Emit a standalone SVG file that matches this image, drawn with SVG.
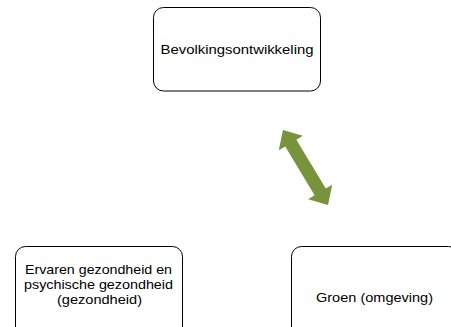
<svg xmlns="http://www.w3.org/2000/svg" width="451" height="327" viewBox="0 0 451 327">
<style>
.box{fill:#ffffff;stroke:#000000;stroke-width:1}
.lbl{font-family:"Liberation Sans",Arial,sans-serif;font-size:13px;fill:#000000;text-anchor:middle}
.arr{fill:#77933C}
</style>
<rect width="451" height="327" fill="#ffffff"/>
<g id="node-bevolking">
<rect class="box" x="153.5" y="7.5" width="167" height="83.5" rx="10"/>
<text class="lbl" x="237" y="54" textLength="153" lengthAdjust="spacingAndGlyphs">Bevolkingsontwikkeling</text>
</g>
<g id="node-gezondheid">
<rect class="box" x="15.5" y="246.5" width="167" height="100" rx="10"/>
<text class="lbl" x="98.5" y="274" textLength="147" lengthAdjust="spacingAndGlyphs">Ervaren gezondheid en</text>
<text class="lbl" x="98.5" y="289" textLength="149" lengthAdjust="spacingAndGlyphs">psychische gezondheid</text>
<text class="lbl" x="99.5" y="304" textLength="85" lengthAdjust="spacingAndGlyphs">(gezondheid)</text>
</g>
<g id="node-groen">
<rect class="box" x="291.5" y="246.5" width="167" height="100" rx="10"/>
<text class="lbl" x="374.5" y="302" textLength="117" lengthAdjust="spacingAndGlyphs">Groen (omgeving)</text>
</g>
<g id="connectors">
<polygon class="arr" transform="translate(305.5 167.5) rotate(59)" points="-43.75,0 -28.5,-14 -28.5,-6.5 28.5,-6.5 28.5,-14 43.75,0 28.5,14 28.5,6.5 -28.5,6.5 -28.5,14"/>
</g>
</svg>
